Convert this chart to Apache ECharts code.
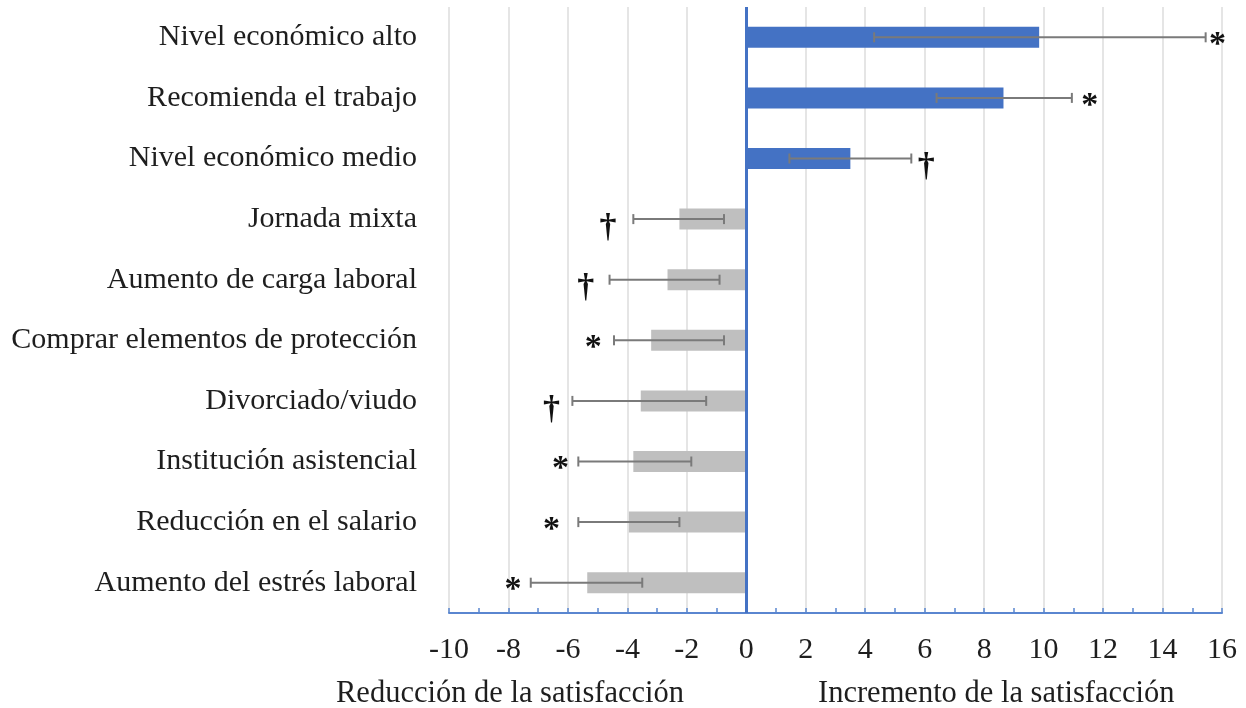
<!DOCTYPE html>
<html>
<head>
<meta charset="utf-8">
<script src="https://cdn.jsdelivr.net/npm/echarts@6/dist/echarts.min.js"></script>
<style>
  html, body { margin: 0; padding: 0; background: #fff; }
  #chart { width: 1246px; height: 708px; }
</style>
</head>
<body>
<div id="chart"></div>
<script>
// Factors and their effect on satisfaction (point estimate with interval)
const categories = [
  'Nivel económico alto',
  'Recomienda el trabajo',
  'Nivel económico medio',
  'Jornada mixta',
  'Aumento de carga laboral',
  'Comprar elementos de protección',
  'Divorciado/viudo',
  'Institución asistencial',
  'Reducción en el salario',
  'Aumento del estrés laboral'
];
const values = [9.85, 8.65, 3.5, -2.25, -2.65, -3.2, -3.55, -3.8, -3.95, -5.35];
const lower  = [4.3, 6.4, 1.45, -3.8, -4.6, -4.45, -5.85, -5.65, -5.65, -7.25];
const upper  = [15.45, 10.95, 5.55, -0.75, -0.9, -0.75, -1.35, -1.85, -2.25, -3.5];
// Significance marks and where they sit along the x axis
const marks  = ['*', '*', '†', '†', '†', '*', '†', '*', '*', '*'];
const markX  = [15.85, 11.55, 6.05, -4.65, -5.4, -5.15, -6.55, -6.25, -6.55, -7.85];
const xTicks = { min: -10, max: 16, interval: 2 };

const SERIF = '"Liberation Serif", "Times New Roman", serif';
const BLUE = '#4472C4';
const GRAY = '#BFBFBF';
const TEXT = '#1e1e1e';

const chart = echarts.init(document.getElementById('chart'), null, { renderer: 'canvas' });

const option = {
  animation: false,
  backgroundColor: '#ffffff',
  grid: { left: 449, right: 24, top: 7, bottom: 95, containLabel: false, outerBoundsMode: 'none' },
  xAxis: {
    type: 'value',
    min: xTicks.min,
    max: xTicks.max,
    interval: xTicks.interval,
    axisLine: { show: true, onZero: false, lineStyle: { color: '#5a86d0', width: 2 } },
    axisTick: { show: true, inside: true, length: 5, lineStyle: { color: '#5a86d0', width: 1.5 } },
    minorTick: { show: true, splitNumber: 2, length: 5, lineStyle: { color: '#5a86d0', width: 1.5 } },
    splitLine: { show: true, lineStyle: { color: '#dcdcdc', width: 1.5 } },
    axisLabel: { fontFamily: SERIF, fontSize: 30, color: TEXT, margin: 22 }
  },
  yAxis: {
    type: 'category',
    data: categories,
    inverse: true,
    axisLine: { show: false, onZero: false },
    axisTick: { show: false },
    splitLine: { show: false },
    axisLabel: { fontFamily: SERIF, fontSize: 30, color: TEXT, margin: 32, padding: [4, 0, 0, 0] }
  },
  graphic: [
    { type: 'text', left: 336, top: 678, style: { text: 'Reducción de la satisfacción', font: '30.5px ' + SERIF, fill: TEXT } },
    { type: 'text', left: 818, top: 678, style: { text: 'Incremento de la satisfacción', font: '30.5px ' + SERIF, fill: TEXT } }
  ],
  series: [
    {
      type: 'bar',
      barWidth: 21,
      data: values.map(v => ({ value: v, itemStyle: { color: v >= 0 ? BLUE : GRAY } })),
      markLine: {
        silent: true,
        symbol: 'none',
        label: { show: false },
        lineStyle: { color: BLUE, width: 3, type: 'solid' },
        data: [{ xAxis: 0 }]
      },
      z: 2
    },
    {
      // interval whiskers with end caps
      type: 'custom',
      z: 3,
      data: categories.map((c, i) => [lower[i], upper[i], i]),
      renderItem: function (params, api) {
        const a = api.coord([api.value(0), api.value(2)]);
        const b = api.coord([api.value(1), api.value(2)]);
        const cap = 5;
        const style = { stroke: '#7a7a7a', lineWidth: 2 };
        return {
          type: 'group',
          children: [
            { type: 'line', shape: { x1: a[0], y1: a[1], x2: b[0], y2: b[1] }, style: style },
            { type: 'line', shape: { x1: a[0], y1: a[1] - cap, x2: a[0], y2: a[1] + cap }, style: style },
            { type: 'line', shape: { x1: b[0], y1: b[1] - cap, x2: b[0], y2: b[1] + cap }, style: style }
          ]
        };
      }
    },
    {
      // significance symbols
      type: 'custom',
      z: 4,
      data: categories.map((c, i) => [markX[i], i]),
      renderItem: function (params, api) {
        const p = api.coord([api.value(0), api.value(1)]);
        const m = marks[params.dataIndex];
        const star = m === '*';
        return {
          type: 'text',
          x: p[0],
          y: star ? p[1] + 8 : p[1] + 9,
          style: {
            text: m,
            font: 'bold 34px ' + SERIF,
            fill: '#111',
            align: 'center',
            verticalAlign: 'middle'
          }
        };
      }
    }
  ]
};

chart.setOption(option);
</script>
</body>
</html>
